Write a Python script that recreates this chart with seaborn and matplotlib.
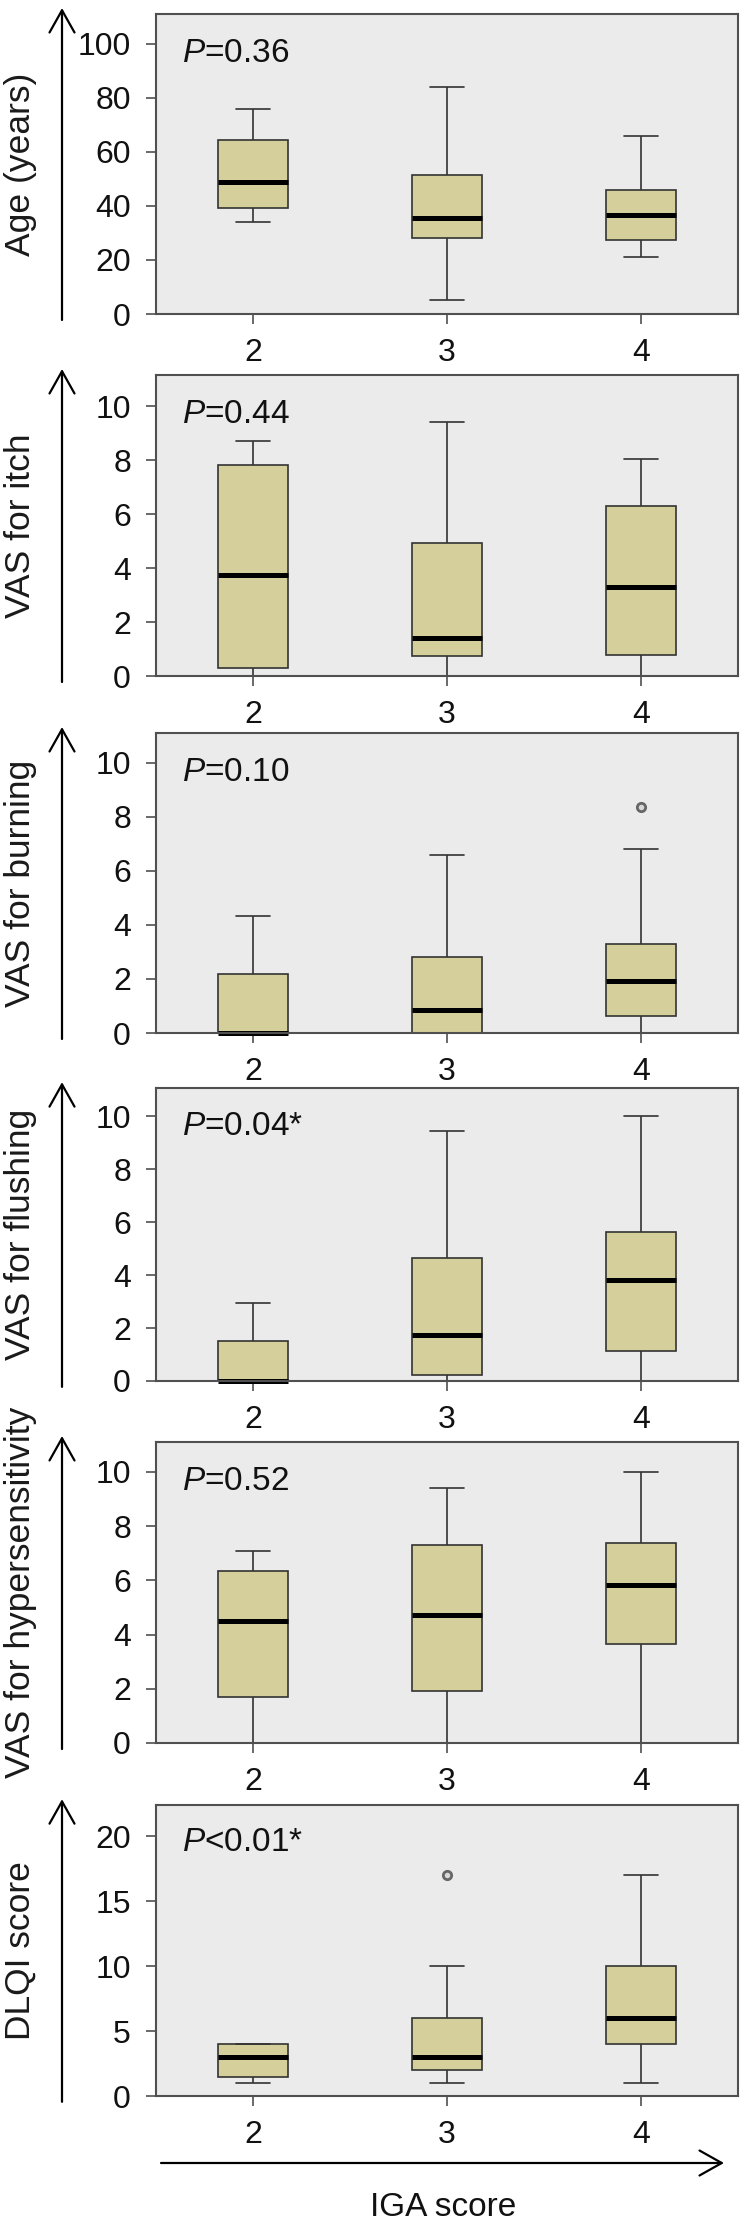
import matplotlib
matplotlib.use("Agg")
import matplotlib.pyplot as plt
import pandas as pd
import seaborn as sns

sns.set_theme(style="ticks")
plt.rcParams["font.family"] = ["Liberation Sans", "DejaVu Sans"]
plt.rcParams["mathtext.fontset"] = "custom"
plt.rcParams["mathtext.it"] = "Liberation Sans:italic"
plt.rcParams["mathtext.rm"] = "Liberation Sans"

# IGA score groups on the x axis
iga_levels = ["2", "3", "4"]

# five-number summaries per group: [lower whisker, Q1, median, Q3, upper whisker]
age = [[34, 39.4, 49, 64.5, 76], [5, 28.2, 35.6, 51.3, 84], [21, 27.2, 36.7, 45.9, 66]]
itch = [[0, 0.31, 3.74, 7.81, 8.71], [0, 0.73, 1.42, 4.91, 9.42], [0, 0.78, 3.30, 6.31, 8.02]]
burning = [[0, 0, 0, 2.18, 4.33], [0, 0, 0.85, 2.83, 6.58], [0, 0.64, 1.93, 3.31, 6.80]]
flushing = [[0, 0, 0, 1.51, 2.94], [0, 0.22, 1.72, 4.64, 9.44], [0, 1.12, 3.81, 5.63, 10.0]]
hypersens = [[0, 1.71, 4.50, 6.36, 7.09], [0, 1.93, 4.71, 7.30, 9.39], [0, 3.64, 5.81, 7.37, 10.0]]
dlqi = [[1, 1.5, 3, 4, 4], [1, 2, 3, 6, 10], [1, 4, 6, 10, 17]]

# outliers (group, value)
burning_fliers = [("4", 8.35)]
dlqi_fliers = [("3", 17)]

ylabels = ["Age (years)", "VAS for itch", "VAS for burning", "VAS for flushing",
           "VAS for hypersensitivity", "DLQI score"]
pvalues = ["$P$=0.36", "$P$=0.44", "$P$=0.10", "$P$=0.04*", "$P$=0.52", "$P$<0.01*"]

panels = [
    (age, [], (0, 111), range(0, 101, 20), 14, 314),
    (itch, [], (0, 11.15), range(0, 11, 2), 375, 676),
    (burning, burning_fliers, (0, 11.1), range(0, 11, 2), 733, 1033),
    (flushing, [], (0, 11.06), range(0, 11, 2), 1088, 1381),
    (hypersens, [], (0, 11.1), range(0, 11, 2), 1442, 1743),
    (dlqi, dlqi_fliers, (0, 22.4), range(0, 21, 5), 1805, 2096),
]

W, H = 746, 2227
box_fill = "#D5D09B"
frame_col = "#505050"
arrow = dict(arrowstyle="->,head_length=0.8,head_width=0.45", lw=1.6,
             color="black", mutation_scale=20, shrinkA=0, shrinkB=0)

fig = plt.figure(figsize=(W / 100, H / 100), dpi=100)

for (stats, fliers, ylim, yticks, top, zero), ylab, ptxt in zip(panels, ylabels, pvalues):
    ax = fig.add_axes([156 / W, 1 - zero / H, 582 / W, (zero - top) / H])
    ax.set_facecolor("#EBEBEB")

    df = pd.DataFrame([(g, v) for g, five in zip(iga_levels, stats) for v in five],
                      columns=["IGA", "value"])
    sns.boxplot(data=df, x="IGA", y="value", order=iga_levels, ax=ax,
                whis=(0, 100), showfliers=False, width=0.36,
                color=box_fill, saturation=1, linecolor="#333333", linewidth=1.2,
                medianprops=dict(color="black", linewidth=3.6, solid_capstyle="butt"))
    for line in ax.lines:
        line.set_clip_on(False)

    if fliers:
        fdf = pd.DataFrame(fliers, columns=["IGA", "value"])
        sns.stripplot(data=fdf, x="IGA", y="value", order=iga_levels, ax=ax,
                      jitter=False, size=6, color="#D8D8D8", edgecolor="#666666",
                      linewidth=2, zorder=5)

    ax.set_xlim(-0.5, 2.5)
    ax.set_ylim(*ylim)
    ax.set_yticks(list(yticks))
    ax.set_xlabel("")
    ax.set_ylabel(ylab, fontsize=25.5, color="#1A1A1A")
    ax.yaxis.set_label_coords(-0.205, 0.5)

    for sp in ax.spines.values():
        sp.set_visible(True)
        sp.set_color(frame_col)
        sp.set_linewidth(1.5)
    ax.tick_params(axis="both", direction="out", length=7, width=1.2,
                   color=frame_col, labelsize=23, labelcolor="#111111")
    ax.tick_params(axis="y", pad=11)
    ax.tick_params(axis="x", pad=10)

    ax.text(0.045, 0.87, ptxt, transform=ax.transAxes, fontsize=24,
            ha="left", va="center", color="#111111")

    ax.annotate("", xy=(-0.1615, 1.02), xytext=(-0.1615, -0.02),
                xycoords="axes fraction", arrowprops=arrow)

# horizontal IGA score arrow and label
fig.add_artist(matplotlib.patches.FancyArrowPatch(
    (161 / W, 1 - 2163 / H), (724 / W, 1 - 2163 / H), transform=fig.transFigure,
    **arrow))
fig.text(443 / W, 1 - 2207 / H, "IGA score", fontsize=24, ha="center", va="center",
         color="#111111")

fig.savefig("out.png", dpi=100, facecolor="white")
